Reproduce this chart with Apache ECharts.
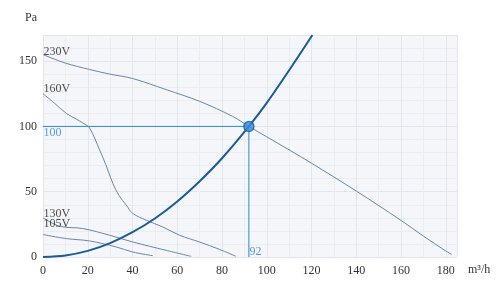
<!DOCTYPE html>
<html><head><meta charset="utf-8">
<script src="https://cdn.jsdelivr.net/npm/echarts@6/dist/echarts.min.js"></script>
<style>html,body{margin:0;padding:0;background:#fff}#c{width:500px;height:295px}</style>
</head><body><div id="c"></div>
<script>
// Fan curves (flow m³/h, pressure Pa)
const flow230 = [0, 10, 20.8, 30, 40, 55, 70, 84.7, 92, 100, 110, 120, 140, 160, 170, 180, 182.6];
const pres230 = [155, 148.5, 143.6, 140, 136.7, 128.2, 119.2, 107.7, 100, 92, 82, 71.8, 50.5, 28, 16, 4.6, 2];
const flow160 = [0, 5, 10.4, 15, 17.8, 20.8, 25.3, 28, 31.2, 34, 37.2, 40.1, 46.1, 53.5, 61, 69.9, 78.8, 86.2];
const pres160 = [125, 118, 110, 105.5, 102.6, 98.8, 82, 71, 56.4, 47, 39.8, 33.4, 28.2, 23, 16.7, 11.5, 5.9, 0.5];
const flow130 = [0, 7.4, 17.8, 29.7, 40.1, 55, 66.2];
const pres130 = [30, 23.6, 21.8, 16.7, 11.5, 5.1, 0.5];
const flow105 = [0, 10.4, 20.8, 32.7, 40.1, 49.1];
const pres105 = [17.2, 14.1, 12.3, 7.7, 3.8, 1];
// System curve
const flowSys = [0, 10, 20, 30, 40, 50, 60, 70, 80, 92, 100, 110, 120.4];
const presSys = [0, 1.2, 4.7, 10.6, 19, 29.5, 42.5, 58, 75.6, 100, 118, 143, 170];
// Operating point
const opFlow = 92;
const opPres = 100;
// Curve labels
const curveNames = ['230V', '160V', '130V', '105V'];
const curveLabelY = [155, 125, 30, 17.2];
// Axis ticks
const xTicks = [0, 20, 40, 60, 80, 100, 120, 140, 160, 180];
const yTicks = [0, 50, 100, 150];

// label vertical nudges (px), style only
const labelDy = [-2, -4, -3, -10];

const pairs = (xs, ys) => xs.map((x, i) => [x, ys[i]]);
const font = 'Liberation Serif';
const fanColor = '#6b86a3';
const sysColor = '#1b5b96';
const opColor = '#2f86d6';
const clear = 'rgba(0,0,0,0)';

const chart = echarts.init(document.getElementById('c'), null, {renderer: 'canvas'});
const fanSeries = (xs, ys) => ({
  type: 'line', data: pairs(xs, ys), smooth: 0.35, showSymbol: false, silent: true,
  lineStyle: {color: fanColor, width: 1}, z: 3
});
chart.setOption({
  animation: false,
  grid: {left: 43, right: 43, top: 35, bottom: 38, show: true, backgroundColor: '#f4f6f9', borderWidth: 0},
  xAxis: {
    type: 'value', min: 0, max: 185, interval: 20,
    axisLine: {show: false}, axisTick: {show: false},
    axisLabel: {color: '#333', fontFamily: font, fontSize: 12, margin: 8, showMaxLabel: false,
      formatter: v => xTicks.includes(v) ? String(v) : ''},
    splitLine: {show: true, lineStyle: {color: '#e3e6ec', width: 1}},
    minorTick: {show: false, splitNumber: 2},
    minorSplitLine: {show: true, lineStyle: {color: '#ebedf1', width: 1}}
  },
  yAxis: {
    type: 'value', min: 0, max: 170, interval: 50,
    axisLine: {show: false}, axisTick: {show: false},
    axisLabel: {color: '#333', fontFamily: font, fontSize: 12, margin: 6, showMaxLabel: false,
      formatter: v => yTicks.includes(v) ? String(v) : ''},
    splitLine: {show: true, lineStyle: {color: '#e3e6ec', width: 1}},
    minorTick: {show: false, splitNumber: 5},
    minorSplitLine: {show: true, lineStyle: {color: '#ebedf1', width: 1}}
  },
  graphic: [
    {type: 'text', left: 25, top: 12, style: {text: 'Pa', font: '12px "Liberation Serif"', fill: '#333'}},
    {type: 'text', left: 468, top: 264, style: {text: 'm³/h', font: '12px "Liberation Serif"', fill: '#333'}}
  ],
  series: [
    fanSeries(flow230, pres230),
    fanSeries(flow160, pres160),
    fanSeries(flow130, pres130),
    fanSeries(flow105, pres105),
    {
      type: 'line', data: pairs(flowSys, presSys), smooth: 0.3, showSymbol: false, silent: true,
      lineStyle: {color: sysColor, width: 2}, z: 4
    },
    {
      type: 'line', data: [[0, opPres], [opFlow, opPres]], showSymbol: false, silent: true,
      lineStyle: {color: opColor, width: 1}, z: 2
    },
    {
      type: 'line', data: [[opFlow, 0], [opFlow, opPres]], showSymbol: false, silent: true,
      lineStyle: {color: opColor, width: 1}, z: 2
    },
    {
      type: 'scatter', data: [[opFlow, opPres]], symbol: 'circle', symbolSize: 10, silent: true,
      itemStyle: {color: '#3a8fe0', borderColor: '#1c5fa6', borderWidth: 1.5}, z: 6
    },
    {
      type: 'scatter', silent: true, symbolSize: 1, z: 5,
      itemStyle: {color: clear},
      data: curveNames.map((n, i) => ({value: [0, curveLabelY[i]], name: n,
        label: {position: [1, labelDy[i]]}})),
      label: {show: true, formatter: p => p.name, align: 'left', verticalAlign: 'middle',
        color: '#222', fontFamily: font, fontSize: 12}
    },
    {
      type: 'scatter', silent: true, symbolSize: 1, z: 5,
      itemStyle: {color: clear},
      data: [{value: [0, opPres], name: String(opPres)}],
      label: {show: true, position: [1, 7], formatter: p => p.name, align: 'left', verticalAlign: 'middle',
        color: opColor, fontFamily: font, fontSize: 12}
    },
    {
      type: 'scatter', silent: true, symbolSize: 1, z: 5,
      itemStyle: {color: clear},
      data: [{value: [opFlow, 0], name: String(opFlow)}],
      label: {show: true, position: [1, -5], formatter: p => p.name, align: 'left', verticalAlign: 'middle',
        color: opColor, fontFamily: font, fontSize: 12}
    }
  ]
});
</script></body></html>
